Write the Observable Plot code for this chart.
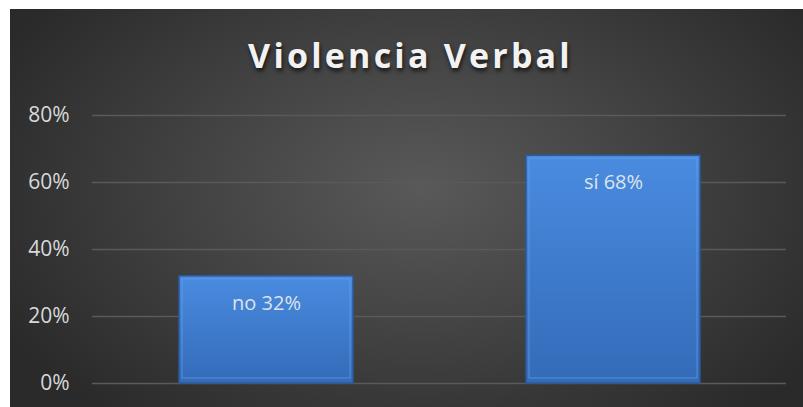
<!DOCTYPE html>
<html>
<head>
<meta charset="utf-8">
<script src="https://cdn.jsdelivr.net/npm/d3@7"></script>
<script src="https://cdn.jsdelivr.net/npm/@observablehq/plot@0.6"></script>
<style>
  html, body { margin: 0; padding: 0; background: #ffffff; }
  #frame {
    position: absolute; left: 10px; top: 9px; width: 793px; height: 398px;
    background: radial-gradient(ellipse 60% 75% at 52% 45%, #595959 0%, #424242 50%, #2a2a2a 100%);
    overflow: hidden;
  }
  #title {
    height: 91px; text-align: center; box-sizing: border-box; padding-top: 25px; padding-left: 8px;
    font-family: "Open Sans", sans-serif; font-weight: 700; font-size: 34px; letter-spacing: 3.2px;
    color: #f2f2f2; line-height: 42px; text-shadow: 1px 3px 4px rgba(0,0,0,0.7);
  }
  #chart svg { display: block; }
</style>
</head>
<body>
<div id="frame">
  <div id="title">Violencia Verbal</div>
  <div id="chart"></div>
</div>
<script>
const categories = ["no", "sí"];
const values = [0.32, 0.68];
const yTicks = [0, 0.2, 0.4, 0.6, 0.8];

const data = categories.map((c, i) => ({cat: c, value: values[i], label: `${c} ${Math.round(values[i] * 100)}%`}));

const defs = () => {
  const svgNS = "http://www.w3.org/2000/svg";
  const g = document.createElementNS(svgNS, "defs");
  g.innerHTML = `
    <linearGradient id="barGrad" x1="0" y1="0" x2="0" y2="1">
      <stop offset="0" stop-color="#4a8be0"/>
      <stop offset="1" stop-color="#336bb8"/>
    </linearGradient>`;
  return g;
};

const plot = Plot.plot({
  width: 793,
  height: 307,
  marginTop: 15,
  marginBottom: 24,
  marginLeft: 82,
  marginRight: 17,
  style: {background: "transparent", color: "#d9d9d9", fontFamily: "'Open Sans', sans-serif", fontSize: "19px"},
  x: {domain: categories, paddingInner: 0.5, paddingOuter: 0.25, axis: null},
  y: {domain: [0, 0.8], label: null},
  marks: [
    defs,
    Plot.ruleY(yTicks, {stroke: "#5a5a5a", strokeWidth: 1.4}),
    Plot.axisY(yTicks, {tickFormat: d => Math.round(d * 100) + "%", tickSize: 0, tickPadding: 23, fontSize: 21, fill: "#d9d9d9", label: null}),
    Plot.barY(data, {x: "cat", y: "value", fill: "url(#barGrad)", stroke: "#2c5a99", strokeWidth: 1.5}),
    Plot.barY(data, {x: "cat", y: "value", fill: "none", stroke: "#6aa6ee", strokeWidth: 1, inset: 3, insetBottom: 5, strokeOpacity: 0.6}),
    Plot.text(data, {x: "cat", y: "value", text: "label", dy: 27, fill: "#dde3ea", fontSize: 20})
  ]
});
document.getElementById("chart").appendChild(plot);
</script>
</body>
</html>
